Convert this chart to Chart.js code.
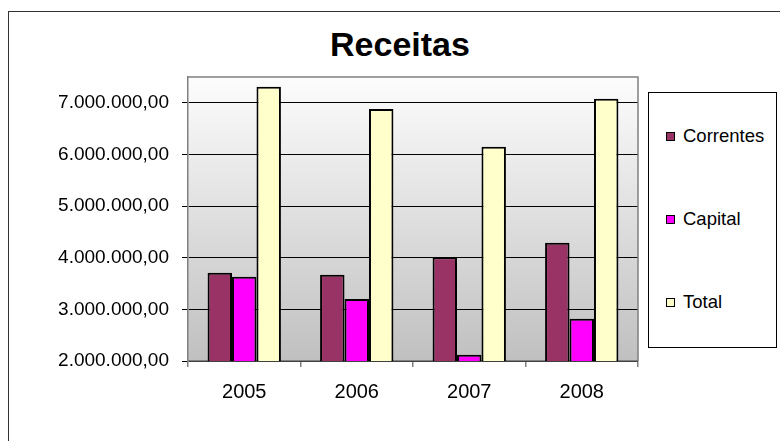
<!DOCTYPE html>
<html>
<head>
<meta charset="utf-8">
<script src="https://cdn.jsdelivr.net/npm/chart.js@4.4.1/dist/chart.umd.min.js"></script>
<style>
  html, body { margin: 0; padding: 0; background: #fff; }
  #wrap { position: relative; width: 780px; height: 441px; overflow: hidden; font-family: "Liberation Sans", Arial, sans-serif; }
  #frame { position: absolute; left: 8px; top: 11px; width: 900px; height: 600px; border: 1px solid #333; box-sizing: border-box; }
  #title { position: absolute; left: 0; width: 800px; top: 22px; text-align: center; font-weight: bold; font-size: 34px; line-height: 44px; color: #000; }
  canvas { position: absolute; left: 0; top: 0; }
  #legend { position: absolute; left: 648px; top: 92px; width: 129px; height: 256px; border: 1px solid #000; box-sizing: border-box; background: #fff; }
  .item { position: absolute; left: 17px; font-size: 18.5px; line-height: 22px; color: #000; white-space: nowrap; }
  .sw { display: inline-block; width: 7px; height: 7px; border: 1px solid #000; margin-right: 8px; vertical-align: 1px; }
</style>
</head>
<body>
<div id="wrap">
  <div id="frame"></div>
  <div id="title">Receitas</div>
  <canvas id="c" width="780" height="441"></canvas>
  <div id="legend"></div>
</div>
<script>
const categories = ['2005', '2006', '2007', '2008'];
const seriesNames = ['Correntes', 'Capital', 'Total'];
const correntes = [3710000, 3670000, 4010000, 4290000];
const capital = [3630000, 3200000, 2120000, 2820000];
const total = [7310000, 6880000, 6150000, 7080000];
const yTicks = [2000000, 3000000, 4000000, 5000000, 6000000, 7000000];
const colors = ['#993366', '#FF00FF', '#FFFFCC'];

function fmt(v) {
  return Math.round(v).toString().replace(/\B(?=(\d{3})+(?!\d))/g, '.') + ',00';
}

const bgPlugin = {
  id: 'bg',
  beforeDraw(chart) {
    const a = chart.chartArea, ctx = chart.ctx;
    const g = ctx.createLinearGradient(0, a.top, 0, a.bottom);
    g.addColorStop(0, '#fdfdfd');
    g.addColorStop(1, '#c0c0c0');
    ctx.save();
    ctx.fillStyle = g;
    ctx.fillRect(a.left, a.top, a.right - a.left, a.bottom - a.top);
    ctx.restore();
  },
  afterDraw(chart) {
    const a = chart.chartArea, ctx = chart.ctx;
    ctx.save();
    ctx.strokeStyle = '#808080';
    ctx.lineWidth = 1.5;
    ctx.beginPath();
    ctx.moveTo(a.left, a.top);
    ctx.lineTo(a.right, a.top);
    ctx.lineTo(a.right, a.bottom);
    ctx.stroke();
    ctx.restore();
  }
};

const data = [correntes, capital, total];
new Chart(document.getElementById('c'), {
  type: 'bar',
  data: {
    labels: categories,
    datasets: seriesNames.map((n, i) => ({
      label: n,
      data: data[i],
      backgroundColor: colors[i],
      borderColor: '#000',
      borderWidth: 2,
      borderSkipped: false,
      categoryPercentage: 0.652,
      barPercentage: 1.0
    }))
  },
  options: {
    responsive: false,
    animation: false,
    devicePixelRatio: 1,
    layout: { padding: { left: 0, top: 77, right: 142, bottom: 0 } },
    plugins: { legend: { display: false }, title: { display: false }, tooltip: { enabled: false } },
    scales: {
      x: {
        afterFit(s) { s.height = 80; },
        grid: { offset: true, drawOnChartArea: false, drawTicks: true, tickLength: 6, color: '#808080', lineWidth: 1.5 },
        border: { color: '#808080', width: 1.5 },
        ticks: { color: '#000', padding: 13, font: { family: '"Liberation Sans", Arial, sans-serif', size: 20 } }
      },
      y: {
        min: 2000000,
        max: 7500000,
        afterFit(s) { s.width = 188; },
        afterBuildTicks(s) { s.ticks = yTicks.map(v => ({ value: v })); },
        grid: { color: '#000', lineWidth: 1, tickLength: 6, drawTicks: true },
        border: { color: '#808080', width: 1.5 },
        ticks: {
          color: '#000', padding: 13,
          font: { family: '"Liberation Sans", Arial, sans-serif', size: 19 },
          callback: v => fmt(v)
        }
      }
    }
  },
  plugins: [bgPlugin]
});

const legend = document.getElementById('legend');
const legendY = [136, 219, 302];
seriesNames.forEach((n, i) => {
  const d = document.createElement('div');
  d.className = 'item';
  d.style.top = (legendY[i] - 92 - 11 - 1) + 'px';
  d.innerHTML = '<span class="sw" style="background:' + colors[i] + '"></span>' + n;
  legend.appendChild(d);
});
</script>
</body>
</html>
